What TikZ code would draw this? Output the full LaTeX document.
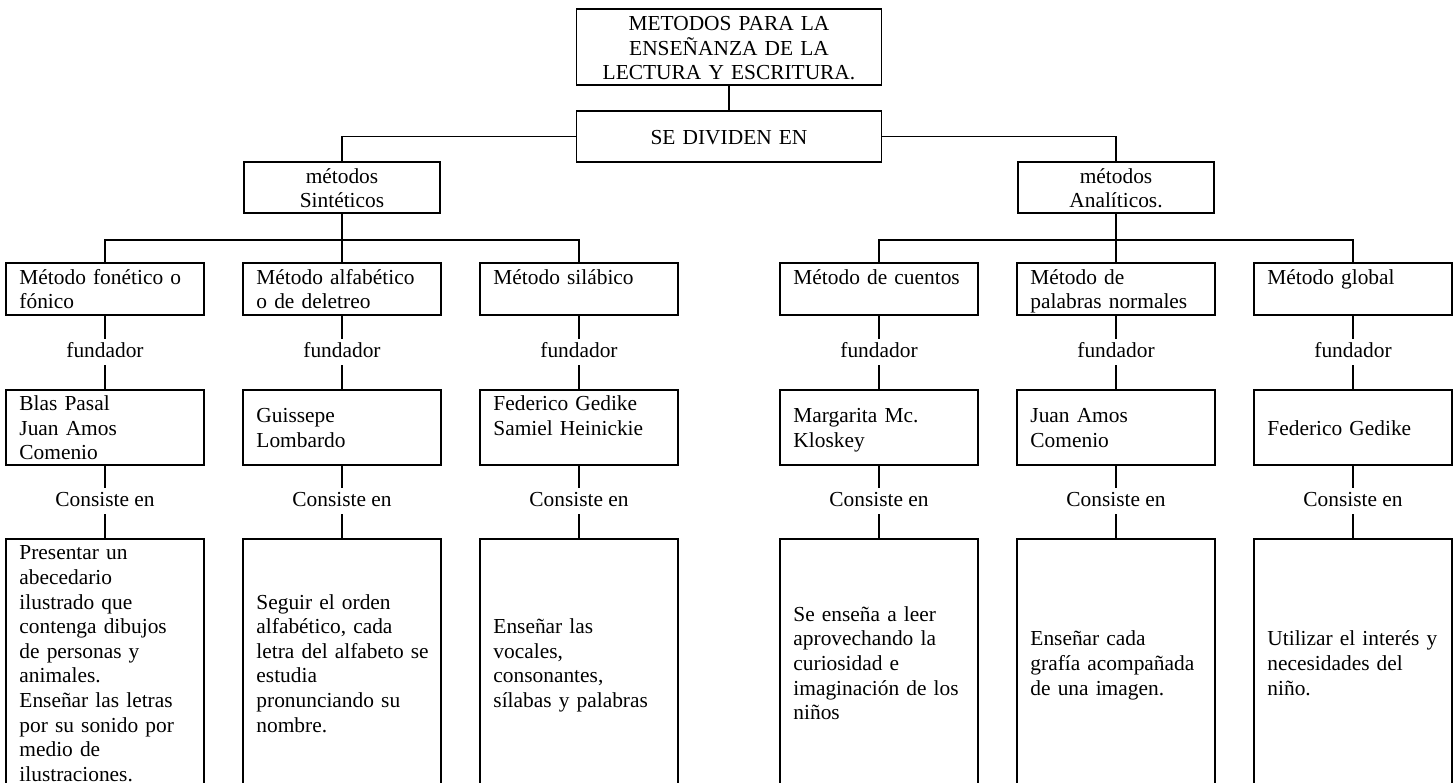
\documentclass[tikz,border=0pt]{standalone}
\usepackage{fontspec}
\setmainfont{Liberation Serif}
\usetikzlibrary{positioning}

\begin{document}
\begin{tikzpicture}[
  x=0.561pt, y=-0.561pt,
  font=\fontsize{12}{13.8}\selectfont,
  line width=1pt,
  head/.style={draw, align=center, inner sep=0pt, minimum height=28.6pt,
    execute at begin node=\rule{0pt}{12pt}, execute at end node=\rule[-3pt]{0pt}{3pt}},
  cell/.style={draw, text width=96pt, inner xsep=7.5pt, inner ysep=0pt, align=left,
    execute at begin node=\rule{0pt}{11.5pt}, execute at end node=\rule[-3pt]{0pt}{3pt}},
  lab/.style={inner xsep=2pt, inner ysep=0pt, text height=9pt, text depth=3pt, minimum height=14pt}
]
  \useasboundingbox (0,0) rectangle (1453,782);
  \clip (0,0) rectangle (1453,782);

  % top of the tree
  \node[head, text width=171pt, minimum height=42.6pt] (title) at (729,47)
    {METODOS PARA LA\\ENSEÑANZA DE LA\\LECTURA Y ESCRITURA.};
  \node[head, text width=171pt] (divide) at (729,136.5) {SE DIVIDEN EN};
  \node[head, text width=110pt] (sint) at (342,187.5) {métodos\\Sintéticos};
  \node[head, text width=110pt] (anal) at (1116,187.5) {métodos\\Analíticos.};

  \draw (title) -- (divide);
  \draw (divide.west) -| (sint);
  \draw (divide.east) -| (anal);

  % methods
  \foreach \i/\x/\t in {1/105/{Método fonético o\\fónico}, 2/342/{Método alfabético\\o de deletreo},
      3/579/{Método silábico\\}, 4/879/{Método de cuentos\\},
      5/1116/{Método de\\palabras normales}, 6/1353/{Método global\\}} {
    \node[cell, minimum height=29.2pt] (m\i) at (\x,289) {\t};
  }

  % founders
  \foreach \i/\x/\t in {1/105/{Blas Pasal\\Juan Amos\\Comenio}, 2/342/{Guissepe\\Lombardo},
      3/579/{Federico Gedike\\Samiel Heinickie\\}, 4/879/{Margarita Mc.\\Kloskey},
      5/1116/{Juan Amos\\Comenio}, 6/1353/{Federico Gedike}} {
    \node[cell, minimum height=42.1pt] (f\i) at (\x,427.5) {\t};
  }

  % descriptions
  \foreach \i/\x/\t in {1/105/{Presentar un\\abecedario\\ilustrado que\\contenga dibujos\\de personas y\\animales.\\Enseñar las letras\\por su sonido por\\medio de\\ilustraciones.},
      2/342/{Seguir el orden\\alfabético, cada\\\mbox{letra del alfabeto se}\\estudia\\pronunciando su\\nombre.},
      3/579/{Enseñar las\\vocales,\\consonantes,\\sílabas y palabras},
      4/879/{Se enseña a leer\\aprovechando la\\curiosidad e\\imaginación de los\\niños},
      5/1116/{Enseñar cada\\grafía acompañada\\de una imagen.},
      6/1353/{Utilizar el interés y\\necesidades del\\niño.}} {
    \node[cell, minimum height=139.1pt] (c\i) at (\x,663) {\t};
  }

  % links between the rows
  \foreach \i/\x in {1/105, 2/342, 3/579, 4/879, 5/1116, 6/1353} {
    \node[lab] (fl\i) at (\x,352) {fundador};
    \node[lab] (cl\i) at (\x,501) {Consiste en};
    \draw (m\i) -- (fl\i);
    \draw (fl\i) -- (f\i);
    \draw (f\i) -- (cl\i);
    \draw (cl\i) -- (c\i);
  }

  \foreach \i in {1,2,3} \draw (sint.south) -- ++(0,26) -| (m\i.north);
  \foreach \i in {4,5,6} \draw (anal.south) -- ++(0,26) -| (m\i.north);
\end{tikzpicture}
\end{document}
